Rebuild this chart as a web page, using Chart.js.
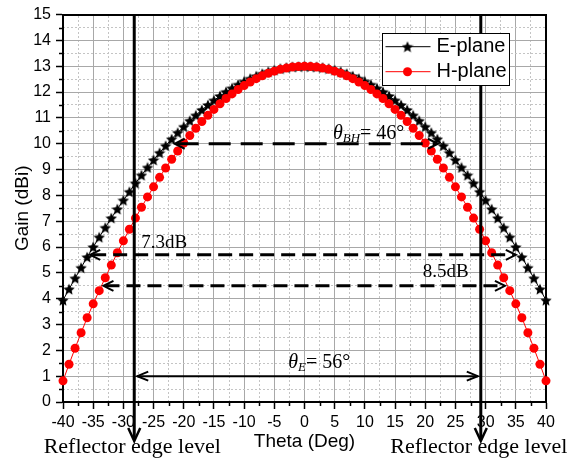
<!DOCTYPE html>
<html>
<head>
<meta charset="utf-8">
<title>Gain pattern</title>
<script src="https://cdn.jsdelivr.net/npm/chart.js@4.4.1/dist/chart.umd.min.js"></script>
<style>
  html, body { margin: 0; padding: 0; background: #fff; }
  canvas { display: block; }
</style>
</head>
<body>
<canvas id="gainChart" width="573" height="461"></canvas>
<script>
// measured radiation patterns: theta in degrees, gain in dBi
const theta = [-40, -39, -38, -37, -36, -35, -34, -33, -32, -31, -30, -29, -28, -27, -26, -25, -24, -23, -22, -21,
  -20, -19, -18, -17, -16, -15, -14, -13, -12, -11, -10, -9, -8, -7, -6, -5, -4, -3, -2, -1,
  0, 1, 2, 3, 4, 5, 6, 7, 8, 9, 10, 11, 12, 13, 14, 15, 16, 17, 18, 19,
  20, 21, 22, 23, 24, 25, 26, 27, 28, 29, 30, 31, 32, 33, 34, 35, 36, 37, 38, 39, 40];

const ePlane = [3.94, 4.37, 4.79, 5.20, 5.61, 6.00, 6.38, 6.75, 7.12, 7.47, 7.81, 8.14, 8.47, 8.78, 9.08, 9.37, 9.65, 9.92, 10.18, 10.43,
  10.66, 10.89, 11.10, 11.31, 11.50, 11.68, 11.85, 12.01, 12.15, 12.29, 12.41, 12.52, 12.62, 12.71, 12.79, 12.85, 12.91, 12.95, 12.98, 12.99,
  13.00, 12.99, 12.98, 12.95, 12.91, 12.85, 12.79, 12.71, 12.62, 12.52, 12.41, 12.29, 12.15, 12.01, 11.85, 11.68, 11.50, 11.31, 11.10, 10.89,
  10.66, 10.43, 10.18, 9.92, 9.65, 9.37, 9.08, 8.78, 8.47, 8.14, 7.81, 7.47, 7.12, 6.75, 6.38, 6.00, 5.61, 5.20, 4.79, 4.37, 3.94];

const hPlane = [0.82, 1.46, 2.08, 2.68, 3.26, 3.80, 4.31, 4.81, 5.30, 5.78, 6.24, 6.69, 7.12, 7.54, 7.94, 8.33, 8.70, 9.06, 9.40, 9.72,
  10.03, 10.32, 10.60, 10.86, 11.10, 11.33, 11.55, 11.75, 11.93, 12.10, 12.25, 12.39, 12.52, 12.63, 12.73, 12.81, 12.88, 12.93, 12.97, 12.99,
  13.00, 12.99, 12.97, 12.93, 12.88, 12.81, 12.73, 12.63, 12.52, 12.39, 12.25, 12.10, 11.93, 11.75, 11.55, 11.33, 11.10, 10.86, 10.60, 10.32,
  10.03, 9.72, 9.40, 9.06, 8.70, 8.33, 7.94, 7.54, 7.12, 6.69, 6.24, 5.78, 5.30, 4.81, 4.31, 3.80, 3.26, 2.68, 2.08, 1.46, 0.82];

const thetaRange = [-40, 40];
const gainRange = [0, 15];

// annotation values
const peakGain = 13;
const edgeAngles = [-28.2, 29.2];            // reflector edges
const edgeArrowLevel = 1;                     // level of the 56 deg span arrow
const beamLevel = 10;                         // level of the 46 deg beamwidth marker
const beamEnds = [-21.5, 22.1];
const edgeDrops = [7.3, 8.5];                 // dB below peak at the reflector edges
const edgeDropEnds = [[-35.5, 35.0], [-33.3, 33.2]];

const SANS = '"Liberation Sans", Arial, sans-serif';
const SERIF = '"Liberation Serif", "Times New Roman", serif';

function makeStar(size, color) {
  const c = document.createElement('canvas');
  c.width = c.height = size;
  const g = c.getContext('2d');
  const r = size / 2, ri = r * 0.46;
  g.beginPath();
  for (let i = 0; i < 10; i++) {
    const a = -Math.PI / 2 + i * Math.PI / 5;
    const rr = i % 2 ? ri : r;
    g.lineTo(r + rr * Math.cos(a), r + 0.6 + rr * Math.sin(a));
  }
  g.closePath();
  g.fillStyle = color;
  g.fill();
  return c;
}
const starImg = makeStar(12, '#000');

const clear = 'rgba(0,0,0,0)';
const atEnd = (ctx, lo, hi) => ctx.tick && (Math.abs(ctx.tick.value - lo) < 1e-6 || Math.abs(ctx.tick.value - hi) < 1e-6);
const isMinor = (ctx, step) => ctx.tick && Math.abs(ctx.tick.value / step - Math.round(ctx.tick.value / step)) > 1e-6;

function chevron(ctx, tx, ty, dx, dy, len, half) {
  ctx.beginPath();
  ctx.moveTo(tx - dx * len - dy * half, ty - dy * len + dx * half);
  ctx.lineTo(tx, ty);
  ctx.lineTo(tx - dx * len + dy * half, ty - dy * len - dx * half);
  ctx.stroke();
}

function drawParts(ctx, x, y, parts) {
  parts.forEach(p => {
    ctx.font = p.font;
    ctx.fillText(p.text, x, y + (p.dy || 0));
    x += ctx.measureText(p.text).width;
  });
}

// short minor ticks half way between the labelled ones
const minorTicks = {
  id: 'minorTicks',
  afterDraw(chart) {
    const {ctx, chartArea: a, scales: {x, y}} = chart;
    ctx.save();
    ctx.strokeStyle = '#000';
    ctx.lineWidth = 1.5;
    ctx.beginPath();
    for (let v = x.min + 2.5; v < x.max; v += 5) {
      const px = Math.round(x.getPixelForValue(v)) + 0.5;
      ctx.moveTo(px, a.bottom);
      ctx.lineTo(px, a.bottom + 4);
    }
    for (let v = y.min + 0.5; v < y.max; v += 1) {
      const py = Math.round(y.getPixelForValue(v)) + 0.5;
      ctx.moveTo(a.left - 4, py);
      ctx.lineTo(a.left, py);
    }
    ctx.stroke();
    ctx.restore();
  }
};

// beamwidth markers, reflector edge lines and their labels
const annotations = {
  id: 'annotations',
  afterDatasetsDraw(chart) {
    const {ctx, chartArea: a, scales: {x, y}} = chart;
    ctx.save();
    ctx.strokeStyle = '#000';
    ctx.fillStyle = '#000';

    // reflector edges
    const edgePx = edgeAngles.map(v => x.getPixelForValue(v));
    const tipY = a.bottom + 39;
    edgePx.forEach(px => {
      ctx.lineWidth = 3;
      ctx.beginPath();
      ctx.moveTo(px, a.top);
      ctx.lineTo(px, tipY - 2);
      ctx.stroke();
      ctx.lineWidth = 2.5;
      chevron(ctx, px, tipY, 0, 1, 13, 6);
    });

    // span arrow between the edges
    const spanY = y.getPixelForValue(edgeArrowLevel);
    ctx.lineWidth = 2;
    ctx.beginPath();
    ctx.moveTo(edgePx[0] + 3, spanY);
    ctx.lineTo(edgePx[1] - 3, spanY);
    ctx.stroke();
    chevron(ctx, edgePx[0] + 3, spanY, -1, 0, 11, 4.5);
    chevron(ctx, edgePx[1] - 3, spanY, 1, 0, 11, 4.5);

    // dashed double arrows
    const dashed = (v0, v1, level, dash) => {
      const x0 = x.getPixelForValue(v0), x1 = x.getPixelForValue(v1), py = y.getPixelForValue(level);
      ctx.lineWidth = 3;
      ctx.setLineDash(dash);
      ctx.beginPath();
      ctx.moveTo(x0 + 2, py);
      ctx.lineTo(x1 - 2, py);
      ctx.stroke();
      ctx.setLineDash([]);
      ctx.lineWidth = 2;
      chevron(ctx, x0, py, -1, 0, 10, 5);
      chevron(ctx, x1, py, 1, 0, 10, 5);
    };
    dashed(beamEnds[0], beamEnds[1], beamLevel, [22, 10]);
    edgeDrops.forEach((d, i) => dashed(edgeDropEnds[i][0], edgeDropEnds[i][1], peakGain - d, [14, 7]));

    // labels
    ctx.textAlign = 'left';
    ctx.textBaseline = 'alphabetic';
    drawParts(ctx, x.getPixelForValue(4.7), y.getPixelForValue(beamLevel) - 4.5, [
      {text: '\u03b8', font: 'italic 20px ' + SERIF},
      {text: 'BH', font: 'italic 13px ' + SERIF, dy: 3},
      {text: '= 46\u00b0', font: '20px ' + SERIF}
    ]);
    drawParts(ctx, x.getPixelForValue(-2.7), spanY - 8.5, [
      {text: '\u03b8', font: 'italic 20px ' + SERIF},
      {text: 'E', font: 'italic 13px ' + SERIF, dy: 3},
      {text: '= 56\u00b0', font: '20px ' + SERIF}
    ]);
    ctx.font = '19px ' + SERIF;
    ctx.fillText(edgeDrops[0].toFixed(1) + 'dB', edgePx[0] + 7, y.getPixelForValue(peakGain - edgeDrops[0]) - 6.5);
    ctx.fillText(edgeDrops[1].toFixed(1) + 'dB', edgePx[1] - 58, y.getPixelForValue(peakGain - edgeDrops[1]) - 9);

    ctx.font = '22px ' + SERIF;
    ctx.textAlign = 'center';
    edgePx.forEach(px => ctx.fillText('Reflector edge level', px - 2, 453));
    ctx.restore();
  }
};

// boxed legend in the upper right of the plot
const boxLegend = {
  id: 'boxLegend',
  afterDraw(chart) {
    const {ctx} = chart;
    const box = {left: 382.5, top: 33.5, width: 127, height: 52};
    ctx.save();
    ctx.fillStyle = '#fff';
    ctx.fillRect(box.left, box.top, box.width, box.height);
    ctx.strokeStyle = '#000';
    ctx.lineWidth = 1;
    ctx.strokeRect(box.left, box.top, box.width, box.height);
    chart.data.datasets.forEach((ds, i) => {
      const cy = box.top + 13.2 + i * 25;
      ctx.strokeStyle = ds.borderColor;
      ctx.lineWidth = 1;
      ctx.beginPath();
      ctx.moveTo(box.left + 3, cy);
      ctx.lineTo(box.left + 48, cy);
      ctx.stroke();
      const mx = box.left + 25;
      if (typeof ds.pointStyle === 'object') {
        ctx.drawImage(ds.pointStyle, mx - ds.pointStyle.width / 2, cy - ds.pointStyle.height / 2);
      } else {
        ctx.fillStyle = ds.backgroundColor;
        ctx.beginPath();
        ctx.arc(mx, cy, ds.pointRadius, 0, Math.PI * 2);
        ctx.fill();
      }
      ctx.fillStyle = '#000';
      ctx.font = '20px ' + SANS;
      ctx.textAlign = 'left';
      ctx.textBaseline = 'middle';
      ctx.fillText(ds.label, box.left + 54, cy);
    });
    ctx.restore();
  }
};

new Chart(document.getElementById('gainChart'), {
  type: 'line',
  data: {
    datasets: [
      {
        label: 'E-plane',
        data: theta.map((t, i) => ({x: t, y: ePlane[i]})),
        borderColor: '#000',
        backgroundColor: '#000',
        borderWidth: 1,
        pointStyle: starImg,
        pointRadius: 5,
        order: 1,
        clip: false
      },
      {
        label: 'H-plane',
        data: theta.map((t, i) => ({x: t, y: hPlane[i]})),
        borderColor: '#ff0000',
        backgroundColor: '#ff0000',
        borderWidth: 1,
        pointStyle: 'circle',
        pointRadius: 4.5,
        pointBorderWidth: 0,
        order: 0,
        clip: false
      }
    ]
  },
  options: {
    responsive: false,
    animation: false,
    devicePixelRatio: 1,
    events: [],
    layout: {padding: {left: 0, right: 27, top: 13, bottom: 0}},
    plugins: {legend: {display: false}, tooltip: {enabled: false}},
    scales: {
      x: {
        type: 'linear',
        position: 'bottom',
        min: thetaRange[0],
        max: thetaRange[1],
        ticks: {stepSize: 5, color: '#000', font: {family: SANS, size: 16}, padding: 4, maxRotation: 0, autoSkip: false},
        grid: {
          color: c => atEnd(c, thetaRange[0], thetaRange[1]) ? clear : '#a8a8a8',
          lineWidth: 1, tickLength: 7, tickColor: '#000', tickWidth: 1.5
        },
        border: {color: '#000', width: 2},
        title: {display: true, text: 'Theta (Deg)', color: '#000', font: {family: SANS, size: 19}, padding: {top: 0, bottom: 8}},
        afterFit: s => { s.height = 59; }
      },
      xMinor: {
        type: 'linear',
        position: 'top',
        min: thetaRange[0],
        max: thetaRange[1],
        ticks: {stepSize: 2.5, display: false},
        grid: {color: c => isMinor(c, 5) ? '#c4c4c4' : clear, lineWidth: 1, drawTicks: false},
        border: {display: true, color: '#000', width: 2, dash: [2, 2]}
      },
      y: {
        type: 'linear',
        position: 'left',
        min: gainRange[0],
        max: gainRange[1],
        ticks: {stepSize: 1, color: '#000', font: {family: SANS, size: 16}, padding: 5},
        grid: {
          color: c => atEnd(c, gainRange[0], gainRange[1]) ? clear : '#a8a8a8',
          lineWidth: 1, tickLength: 7, tickColor: '#000', tickWidth: 1.5
        },
        border: {color: '#000', width: 2},
        title: {display: true, text: 'Gain (dBi)', color: '#000', font: {family: SANS, size: 19}, padding: {top: 11.5, bottom: 0}},
        afterFit: s => { s.width = 63; }
      },
      yMinor: {
        type: 'linear',
        position: 'right',
        min: gainRange[0],
        max: gainRange[1],
        ticks: {stepSize: 0.5, display: false},
        grid: {color: c => isMinor(c, 1) ? '#c4c4c4' : clear, lineWidth: 1, drawTicks: false},
        border: {display: true, color: '#000', width: 2, dash: [2, 2]}
      }
    }
  },
  plugins: [minorTicks, annotations, boxLegend]
});
</script>
</body>
</html>
